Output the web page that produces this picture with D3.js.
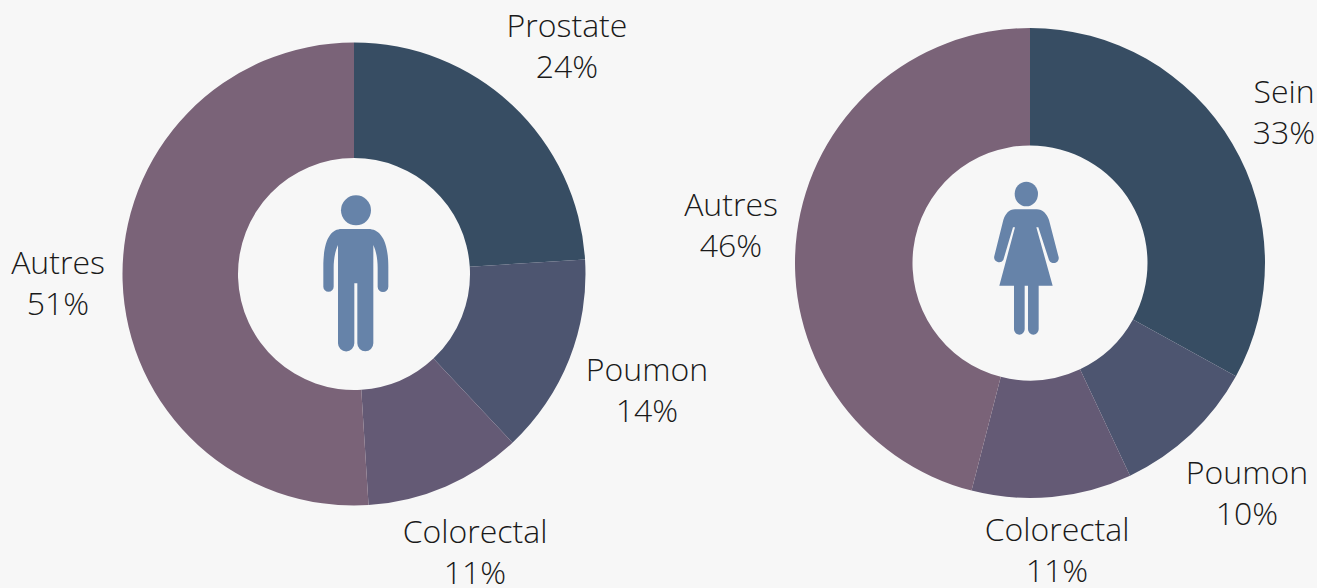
<!DOCTYPE html>
<html>
<head>
<meta charset="utf-8">
<script src="https://cdn.jsdelivr.net/npm/d3@7"></script>
<style>
html, body { margin: 0; padding: 0; background: #f7f7f7; overflow: hidden; }
svg { display: block; }
text { font-family: "Open Sans", sans-serif; font-weight: 300; font-size: 32px; fill: #1a1a1a; }
</style>
</head>
<body>
<svg width="1317" height="588"></svg>
<script>
// donnees
const menLabels = ["Prostate", "Poumon", "Colorectal", "Autres"];
const menValues = [24, 14, 11, 51];
const womenLabels = ["Sein", "Poumon", "Colorectal", "Autres"];
const womenValues = [33, 10, 11, 46];
const colors = ["#374d63", "#4d5570", "#645a75", "#7a6378"];

// icones, coordonnees locales
const manBody = "M125,147 L205,147 C240,147 265,180 265,260 L265,320 A16,16 0 0 1 233,320 L233,265 C233,235 228,212 220,195 L220,490 A24,24 0 0 1 172,490 L172,310 L163,310 L163,490 A24.5,24.5 0 0 1 114,490 L114,195 C106,212 101,235 101,265 L101,320 A15.5,15.5 0 0 1 70,320 L70,260 C70,180 92,147 125,147 Z";
const womanBody = "M120,118 L185,118 C203,118 216,132 222,150 L250,258 A15,15 0 0 1 222,270 L190,172 L184,172 L233,347 L191,347 L191,478 A16,16 0 0 1 159,478 L159,347 L149,347 L149,478 A16,16 0 0 1 117,478 L117,347 L73,347 L120,172 L114,172 L85,270 A15,15 0 0 1 58,258 L85,150 C91,132 102,118 120,118 Z";

const svg = d3.select("svg");

function drawDonut(labels, values, cfg) {
    const g = svg.append("g").attr("transform", `translate(${cfg.cx}, ${cfg.cy})`);
    const pie = d3.pie().sort(null)(values);
    const arc = d3.arc().innerRadius(cfg.inner).outerRadius(cfg.outer);

    g.selectAll("path")
        .data(pie)
        .enter()
        .append("path")
        .attr("d", arc)
        .attr("fill", (d, i) => colors[i]);

    // etiquettes : nom + pourcentage
    labels.forEach((name, i) => {
        const t = svg.append("text")
            .attr("text-anchor", "middle")
            .attr("x", cfg.labelPos[i][0]);
        t.append("tspan").attr("x", cfg.labelPos[i][0]).attr("y", cfg.labelPos[i][1]).text(name);
        t.append("tspan").attr("x", cfg.labelPos[i][0]).attr("y", cfg.labelPos[i][1] + 41).text(values[i] + "%");
    });
}

drawDonut(menLabels, menValues, {
    cx: 354, cy: 274, inner: 116, outer: 231.5,
    labelPos: [[567, 37], [647, 381], [475, 543], [58, 274]]
});
drawDonut(womenLabels, womenValues, {
    cx: 1030, cy: 263, inner: 117.5, outer: 235,
    labelPos: [[1284, 103], [1247, 484], [1057, 541], [731, 216]]
});

const man = svg.append("g").attr("transform", "translate(300, 180) scale(0.3333)").attr("fill", "#6683a9");
man.append("circle").attr("cx", 168).attr("cy", 91).attr("r", 45);
man.append("path").attr("d", manBody);

const woman = svg.append("g").attr("transform", "translate(975, 170) scale(0.3333)").attr("fill", "#6683a9");
woman.append("ellipse").attr("cx", 154).attr("cy", 72).attr("rx", 35).attr("ry", 37);
woman.append("path").attr("d", womanBody);
</script>
</body>
</html>
